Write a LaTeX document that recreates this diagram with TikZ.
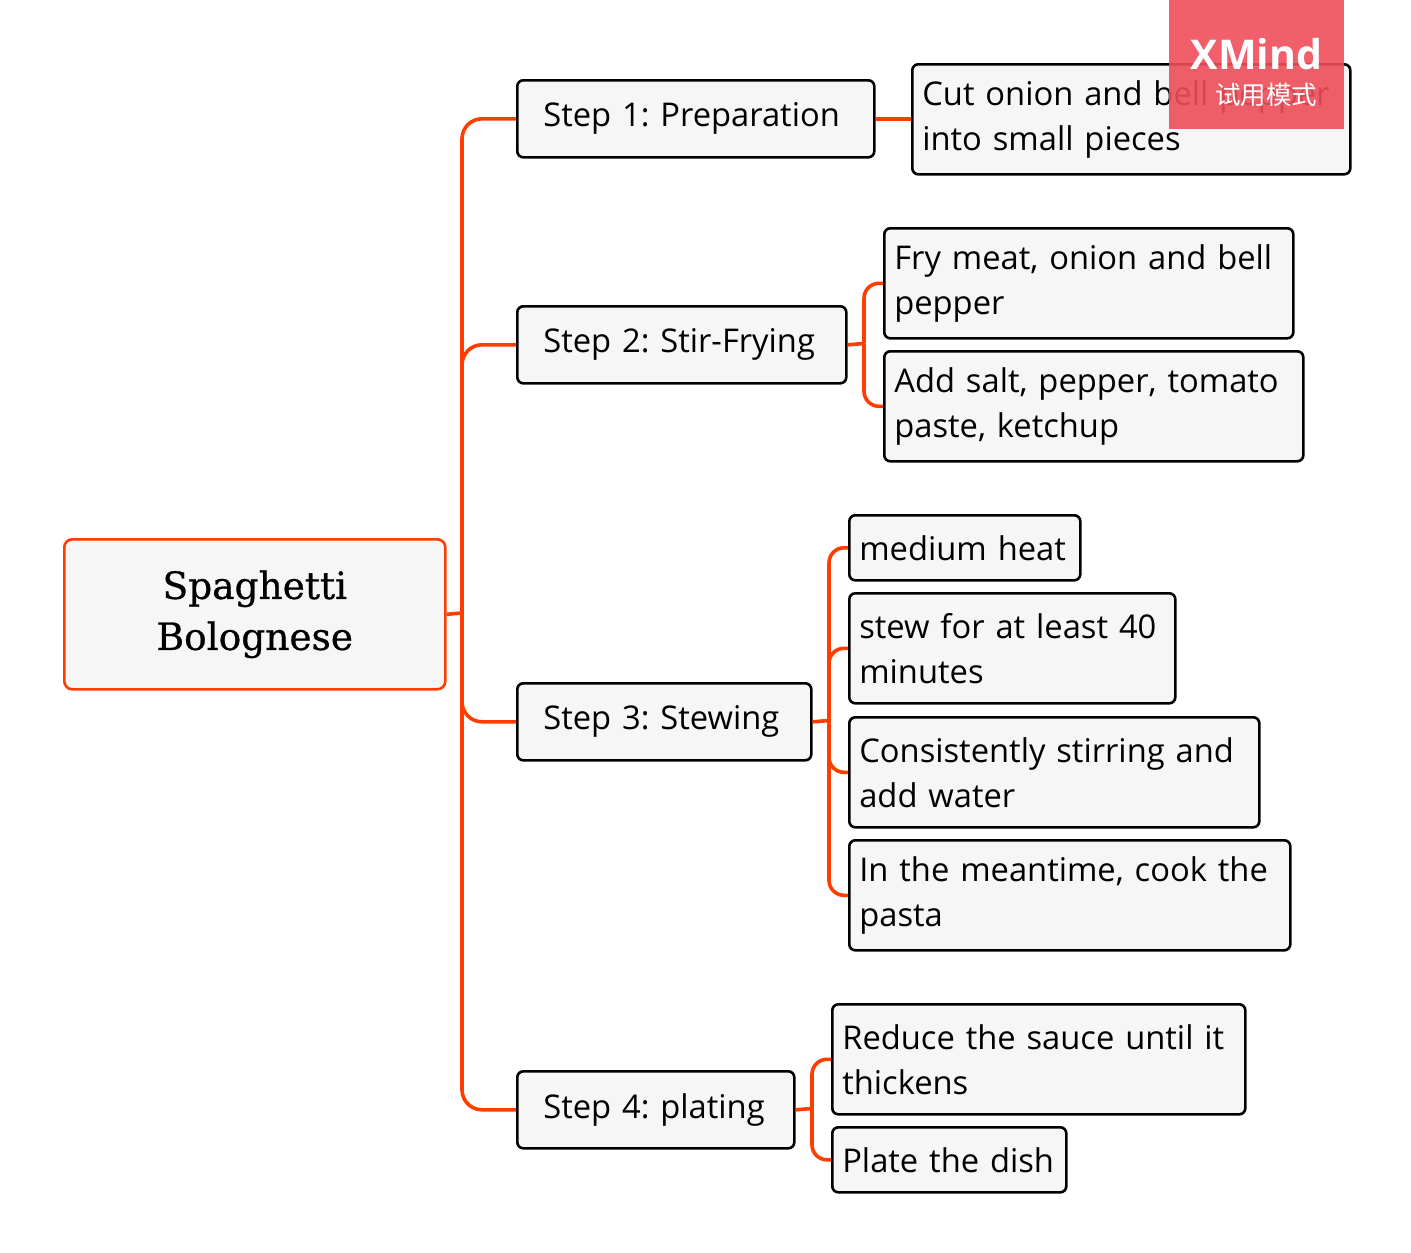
\documentclass[tikz,border=0pt]{standalone}
\usepackage{fontspec}
\setmainfont{Open Sans}
\newfontfamily\rootfont[FakeBold=0.7]{DejaVu Serif}
\newfontfamily\wmfont{Open Sans}
\newfontfamily\cjkfont{Noto Sans CJK SC}
\definecolor{conn}{HTML}{FF3D00}
\definecolor{boxfill}{HTML}{F6F6F6}
\definecolor{wm}{HTML}{EE4E5A}
\frenchspacing
\tikzset{
  conn/.style={draw=conn, line width=3.6pt},
  stepbox/.style={draw=black, fill=boxfill, line width=2.6pt, rounded corners=6pt,
    anchor=north west, inner xsep=26pt, inner ysep=0pt, align=left,
    font=\fontsize{32.7}{45}\selectfont},
  leafbox/.style={draw=black, fill=boxfill, line width=2.6pt, rounded corners=6pt,
    anchor=north west, inner xsep=10pt, inner ysep=0pt, align=left,
    font=\fontsize{32.7}{45}\selectfont},
  rootbox/.style={draw=conn, fill=boxfill, line width=2.6pt, rounded corners=8pt,
    anchor=north west, align=center, font=\rootfont\fontsize{37.5}{51}\selectfont},
}
\begin{document}
\begin{tikzpicture}[x=1pt,y=-1pt]
\useasboundingbox (0,0) rectangle (1411,1253);
% root
\node[rootbox, minimum width=381pt, minimum height=150pt] (root) at (63,538) {Spaghetti\\Bolognese};
% steps
\node[stepbox, minimum width=357pt, minimum height=77pt, text width=305pt] (s1) at (516,79) {Step 1: Preparation};
\node[stepbox, minimum width=329pt, minimum height=77pt, text width=277pt] (s2) at (516,305) {Step 2: Stir-Frying};
\node[stepbox, minimum width=294pt, minimum height=77pt, text width=242pt] (s3) at (516,682) {Step 3: Stewing};
\node[stepbox, minimum width=277pt, minimum height=77pt, text width=225pt] (s4) at (516,1070) {Step 4: plating};
% leaves
\node[leafbox, minimum width=438pt, minimum height=110pt, text width=418pt] (c1) at (911,63) {Cut onion and bell pepper\\into small pieces};
\node[leafbox, minimum width=409pt, minimum height=110pt, text width=389pt] (c21) at (883,227) {Fry meat, onion and bell\\pepper};
\node[leafbox, minimum width=419pt, minimum height=110pt, text width=399pt] (c22) at (883,350) {Add salt, pepper, tomato\\paste, ketchup};
\node[leafbox, minimum width=231pt, minimum height=65pt, text width=211pt] (c31) at (848,514) {medium heat};
\node[leafbox, minimum width=326pt, minimum height=110pt, text width=306pt] (c32) at (848,592) {stew for at least 40\\minutes};
\node[leafbox, minimum width=410pt, minimum height=110pt, text width=390pt] (c33) at (848,716) {Consistently stirring and\\add water};
\node[leafbox, minimum width=441pt, minimum height=110pt, text width=421pt] (c34) at (848,839) {In the meantime, cook the\\pasta};
\node[leafbox, minimum width=413pt, minimum height=110pt, text width=393pt] (c41) at (831,1003) {Reduce the sauce until it\\thickens};
\node[leafbox, minimum width=234pt, minimum height=65pt, text width=214pt] (c42) at (831,1126) {Plate the dish};
% junctions
\coordinate (rj) at (462,613);
\coordinate (j2) at (864,343.5);
\coordinate (j3) at (829,720.5);
\coordinate (j4) at (812,1108.5);
% connectors
\draw[conn] (root.east) -- (rj);
\foreach \s in {s1,s2,s3,s4} \draw[conn, rounded corners=20pt] (rj) |- (\s.west);
\draw[conn] (s1.east) -- (c1.west |- s1.east);
\draw[conn] (s2.east) -- (j2);
\foreach \c in {c21,c22} \draw[conn, rounded corners=15pt] (j2) |- (\c.west);
\draw[conn] (s3.east) -- (j3);
\foreach \c in {c31,c32,c33,c34} \draw[conn, rounded corners=15pt] (j3) |- (\c.west);
\draw[conn] (s4.east) -- (j4);
\foreach \c in {c41,c42} \draw[conn, rounded corners=15pt] (j4) |- (\c.west);
% watermark
\fill[wm, opacity=0.9] (1169,0) rectangle (1344,129);
\node[text=white, font=\wmfont\bfseries\fontsize{41}{41}\selectfont, anchor=base] (wmx) at (1256.5,69) {XMind};
\node[text=white, font=\cjkfont\fontsize{25.5}{25.5}\selectfont, anchor=base east] (wmc) at (1321,104) {试用模式};
\end{tikzpicture}
\end{document}
